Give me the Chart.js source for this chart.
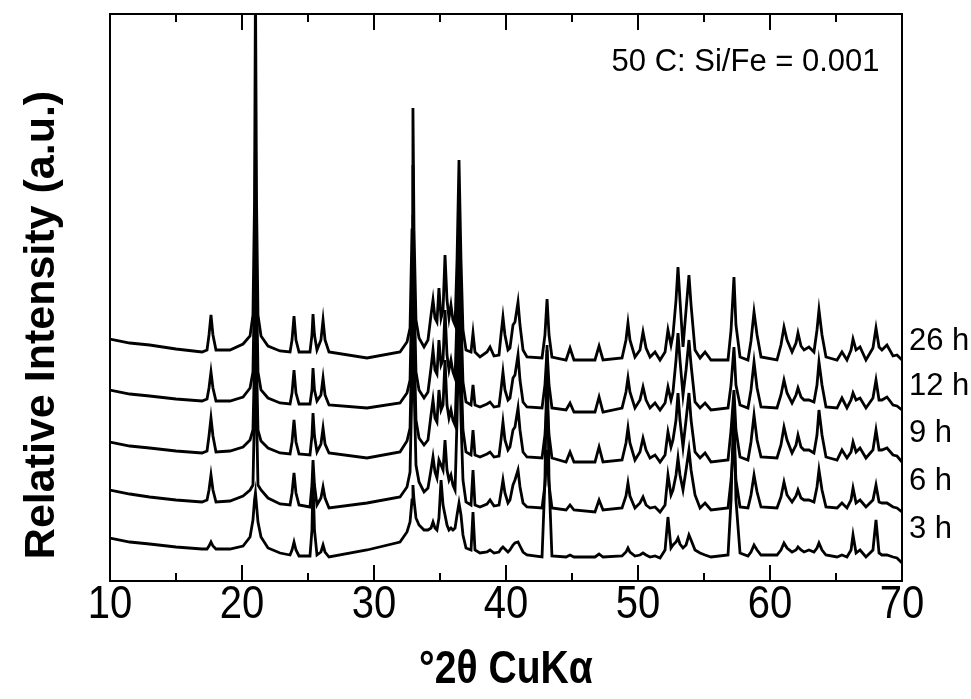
<!DOCTYPE html>
<html><head><meta charset="utf-8">
<script src="https://cdn.jsdelivr.net/npm/chart.js@4.4.1/dist/chart.umd.min.js"></script>
<style>html,body{margin:0;padding:0;background:#fff;}canvas{display:block;}</style>
</head><body>
<canvas id="c" width="971" height="699"></canvas>
<script>
// ---- data (2-theta in degrees, offset intensities in a.u.) ----
const twoTheta = [
 10.0, 11.5, 13.0, 15.0, 16.97, 17.35, 17.5, 17.65, 17.8, 18.03,
 19.09, 20.08, 20.61, 20.83, 20.95, 21.02, 21.1, 21.21, 21.44, 21.97,
 22.88, 23.64, 23.79, 23.94, 24.09, 24.32, 25.15, 25.3, 25.38, 25.49,
 25.68, 25.98, 26.14, 26.29, 26.59, 29.47, 31.97, 32.5, 32.73, 32.88,
 32.95, 33.03, 33.18, 33.41, 33.79, 34.09, 34.32, 34.47, 34.62, 34.77,
 34.92, 35.08, 35.23, 35.38, 35.53, 35.68, 35.83, 35.98, 36.14, 36.29,
 36.44, 36.59, 36.74, 36.97, 37.35, 37.5, 37.65, 38.03, 38.56, 38.79,
 39.09, 39.47, 39.62, 39.77, 39.92, 40.15, 40.3, 40.53, 40.68, 40.91,
 41.06, 41.29, 41.59, 42.73, 42.95, 43.11, 43.26, 43.48, 44.55, 44.85,
 45.15, 46.74, 47.05, 47.35, 48.79, 49.09, 49.24, 49.39, 49.77, 50.15,
 50.38, 50.61, 50.91, 51.29, 51.67, 52.05, 52.27, 52.5, 52.65, 52.88,
 53.03, 53.18, 53.41, 53.64, 53.86, 54.02, 54.32, 54.7, 55.08, 55.53,
 56.82, 57.05, 57.27, 57.42, 57.73, 58.33, 58.56, 58.79, 59.02, 59.32,
 60.53, 60.83, 61.06, 61.29, 61.67, 61.97, 62.12, 62.35, 62.58, 62.95,
 63.33, 63.56, 63.71, 63.94, 64.24, 65.08, 65.45, 65.83, 66.14, 66.29,
 66.52, 66.82, 67.27, 67.8, 68.03, 68.26, 68.48, 68.86, 69.32, 69.62, 70.0
];
const int26h = [
 242, 238, 236, 232, 229, 231, 246, 266, 246, 231,
 231, 237, 245, 266, 381, 601, 381, 266, 245, 235,
 230, 229, 241, 265, 241, 229, 229, 246, 267, 246,
 231, 241, 261, 241, 229, 223, 229, 239, 253, 351,
 473, 351, 261, 243, 234, 241, 266, 281, 263, 259,
 293, 263, 271, 326, 281, 263, 276, 261, 256, 321,
 421, 321, 251, 231, 229, 248, 229, 224, 229, 234,
 225, 226, 246, 264, 246, 231, 233, 256, 259, 279,
 256, 231, 224, 223, 246, 282, 246, 224, 221, 233,
 221, 221, 235, 221, 223, 241, 258, 241, 224, 231,
 249, 233, 224, 229, 221, 229, 251, 236, 246, 281,
 314, 281, 234, 271, 306, 276, 231, 223, 229, 221,
 221, 251, 304, 256, 224, 221, 240, 269, 246, 224,
 221, 236, 254, 241, 229, 238, 248, 235, 231, 234,
 229, 251, 271, 246, 224, 221, 229, 221, 231, 242,
 231, 234, 221, 233, 253, 234, 231, 236, 225, 226, 221
];
const int12h = [
 191, 187, 185, 182, 180, 182, 193, 209, 193, 180,
 180, 184, 193, 209, 301, 451, 301, 209, 191, 183,
 178, 177, 188, 211, 188, 177, 177, 191, 213, 191,
 180, 186, 203, 186, 176, 173, 178, 188, 201, 297,
 416, 297, 209, 191, 183, 189, 213, 231, 211, 207,
 241, 216, 221, 271, 226, 211, 221, 209, 203, 266,
 366, 266, 199, 179, 176, 196, 176, 174, 177, 179,
 174, 175, 191, 209, 191, 181, 183, 203, 206, 226,
 201, 179, 174, 173, 196, 231, 196, 173, 171, 178,
 169, 169, 184, 169, 173, 189, 203, 189, 173, 181,
 194, 181, 173, 178, 171, 178, 194, 181, 189, 221,
 248, 221, 186, 211, 241, 216, 179, 173, 178, 171,
 173, 196, 234, 196, 176, 173, 191, 219, 193, 174,
 173, 186, 201, 188, 178, 186, 193, 184, 181, 181,
 179, 196, 219, 196, 174, 173, 183, 173, 181, 188,
 181, 183, 173, 183, 201, 181, 181, 184, 176, 175, 171
];
const int9h = [
 139, 135, 133, 130, 128, 130, 145, 163, 145, 129,
 130, 134, 141, 151, 221, 341, 221, 151, 140, 133,
 128, 127, 139, 161, 139, 127, 126, 145, 168, 145,
 129, 137, 153, 137, 128, 123, 129, 140, 153, 248,
 366, 248, 161, 143, 136, 141, 166, 181, 163, 159,
 191, 171, 176, 221, 176, 163, 171, 161, 156, 216,
 316, 216, 151, 129, 126, 151, 126, 124, 127, 129,
 124, 125, 141, 159, 141, 131, 134, 151, 154, 173,
 151, 129, 124, 123, 146, 181, 146, 123, 119, 129,
 119, 119, 134, 119, 121, 138, 153, 138, 121, 129,
 143, 131, 123, 126, 119, 126, 149, 134, 141, 161,
 188, 161, 134, 161, 188, 161, 129, 123, 128, 119,
 121, 151, 191, 151, 124, 121, 139, 166, 141, 124,
 123, 136, 154, 141, 128, 136, 146, 134, 131, 131,
 128, 146, 171, 146, 124, 121, 131, 123, 129, 139,
 129, 133, 123, 131, 151, 131, 131, 133, 126, 125, 119
];
const int6h = [
 91, 87, 84, 81, 79, 81, 91, 106, 91, 79,
 80, 85, 91, 96, 171, 281, 171, 96, 91, 83,
 77, 76, 88, 108, 88, 76, 74, 96, 121, 96,
 76, 83, 94, 83, 73, 78, 84, 94, 109, 198,
 313, 198, 116, 99, 89, 93, 111, 124, 109, 103,
 121, 116, 111, 141, 111, 101, 106, 96, 91, 161,
 256, 161, 101, 79, 76, 111, 76, 74, 77, 81,
 75, 76, 88, 101, 88, 78, 81, 96, 101, 111,
 94, 78, 74, 73, 96, 131, 96, 73, 71, 76,
 71, 69, 81, 71, 73, 85, 98, 85, 73, 78,
 84, 76, 73, 74, 69, 76, 106, 86, 91, 106,
 123, 106, 91, 111, 131, 111, 86, 73, 78, 71,
 73, 101, 141, 101, 74, 73, 86, 106, 89, 74,
 73, 84, 99, 86, 79, 85, 91, 83, 81, 81,
 79, 94, 111, 91, 74, 73, 78, 73, 81, 93,
 78, 81, 74, 81, 96, 79, 78, 78, 74, 73, 69
];
const int3h = [
 43, 39, 37, 34, 32, 32, 35, 39, 35, 32,
 32, 35, 44, 61, 81, 88, 76, 59, 44, 33,
 28, 26, 31, 39, 31, 25, 25, 51, 101, 51,
 26, 29, 36, 29, 24, 31, 39, 49, 59, 81,
 96, 81, 63, 56, 51, 51, 53, 59, 53, 51,
 63, 101, 76, 66, 56, 51, 53, 51, 53, 66,
 78, 66, 46, 33, 31, 69, 31, 28, 29, 31,
 28, 29, 32, 34, 32, 29, 31, 36, 38, 39,
 35, 29, 26, 24, 101, 236, 101, 25, 24, 26,
 24, 24, 27, 24, 25, 29, 33, 29, 25, 26,
 28, 26, 24, 25, 23, 31, 64, 33, 36, 39,
 43, 37, 33, 36, 46, 41, 31, 28, 26, 24,
 26, 81, 181, 81, 28, 25, 29, 36, 31, 26,
 26, 31, 38, 33, 29, 31, 34, 31, 29, 31,
 29, 33, 38, 31, 26, 24, 26, 24, 31, 46,
 28, 31, 24, 31, 61, 28, 26, 26, 24, 23, 18
];
const seriesNames = ['26 h', '12 h', '9 h', '6 h', '3 h'];
const seriesValues = [int26h, int12h, int9h, int6h, int3h];
const labelLevels = [240, 195, 148, 100, 52];   // intensity level of each right-hand label
const xMajorTicks = [10, 20, 30, 40, 50, 60, 70];
const xMinorTicks = [15, 25, 35, 45, 55, 65];
const xTitle = '°2θ CuKα';
const yTitle = 'Relative Intensity (a.u.)';
const noteText = '50 C: Si/Fe = 0.001';
const notePos = [68.3, 519];  // [2theta, intensity] of the note's right end

const SANS = '"Liberation Sans", Arial, Helvetica, sans-serif';

function narrowText(ctx, text, x, y, font, squeeze) {
  ctx.save();
  ctx.translate(x, y);
  ctx.scale(squeeze, 1);
  ctx.font = font;
  ctx.fillText(text, 0, 0);
  ctx.restore();
}

const decor = {
  id: 'decor',
  afterDraw(chart) {
    const {ctx, chartArea: a, scales: {x, y}} = chart;
    ctx.save();
    ctx.strokeStyle = '#000';
    ctx.lineWidth = 2;
    ctx.strokeRect(a.left, a.top, a.right - a.left, a.bottom - a.top);
    ctx.beginPath();
    xMajorTicks.forEach(v => {
      const p = Math.round(x.getPixelForValue(v));
      ctx.moveTo(p, a.bottom); ctx.lineTo(p, a.bottom - 16);
      ctx.moveTo(p, a.top); ctx.lineTo(p, a.top + 16);
    });
    xMinorTicks.forEach(v => {
      const p = Math.round(x.getPixelForValue(v));
      ctx.moveTo(p, a.bottom); ctx.lineTo(p, a.bottom - 8);
      ctx.moveTo(p, a.top); ctx.lineTo(p, a.top + 8);
    });
    ctx.stroke();

    ctx.fillStyle = '#000';
    // tick labels (condensed face)
    ctx.textAlign = 'center';
    ctx.textBaseline = 'alphabetic';
    xMajorTicks.forEach(v => {
      narrowText(ctx, String(v), x.getPixelForValue(v), a.bottom + 37, '46px ' + SANS, 0.87);
    });

    ctx.font = '31px ' + SANS;
    ctx.textAlign = 'left';
    ctx.textBaseline = 'middle';
    seriesNames.forEach((t, i) => ctx.fillText(t, a.right + 7, y.getPixelForValue(labelLevels[i])));

    ctx.textAlign = 'right';
    ctx.fillText(noteText, x.getPixelForValue(notePos[0]), y.getPixelForValue(notePos[1]));

    ctx.textAlign = 'center';
    ctx.textBaseline = 'alphabetic';
    narrowText(ctx, xTitle, (a.left + a.right) / 2, 683, 'bold 46px ' + SANS, 0.85);

    ctx.save();
    ctx.translate(42, 325);
    ctx.rotate(-Math.PI / 2);
    ctx.textBaseline = 'middle';
    ctx.font = 'bold 43px ' + SANS;
    ctx.fillText(yTitle, 0, 0);
    ctx.restore();
    ctx.restore();
  }
};

new Chart(document.getElementById('c'), {
  type: 'line',
  data: {
    datasets: seriesValues.map((vals, i) => ({
      label: seriesNames[i],
      data: twoTheta.map((t, k) => ({x: t, y: vals[k]})),
      borderColor: '#000',
      borderWidth: 2.8,
      pointRadius: 0,
      tension: 0,
      fill: false
    }))
  },
  options: {
    responsive: false,
    animation: false,
    devicePixelRatio: 1,
    layout: {padding: {left: 110, right: 69, top: 14, bottom: 0}},
    plugins: {legend: {display: false}, tooltip: {enabled: false}},
    scales: {
      x: {
        type: 'linear', min: 10, max: 70,
        grid: {display: false}, border: {display: false},
        ticks: {display: false, stepSize: 10},
        afterFit(s) { s.height = 118; }
      },
      y: {
        type: 'linear', min: 0, max: 567, display: false
      }
    }
  },
  plugins: [decor]
});
</script>
</body></html>
